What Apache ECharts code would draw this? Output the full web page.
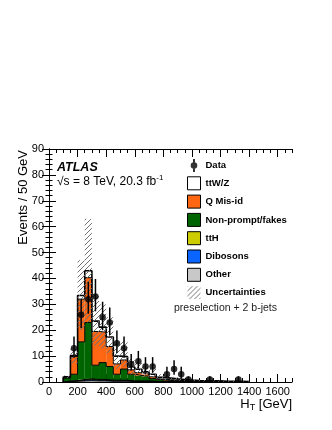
<!DOCTYPE html>
<html>
<head>
<meta charset="utf-8">
<script src="https://cdn.jsdelivr.net/npm/echarts@6/dist/echarts.min.js"></script>
<style>
html, body { margin: 0; padding: 0; background: #fff; }
#chart { width: 332px; height: 430px; }
</style>
</head>
<body>
<div id="chart"></div>
<script>
// bin lower edges (GeV), 50 GeV wide
var binLow = [100, 150, 200, 250, 300, 350, 400, 450, 500, 550, 600, 650, 700, 750, 800, 850, 900, 950, 1000, 1050, 1100, 1150, 1200, 1250, 1300, 1350];
var binWidth = 50;

// background components, stacked bottom -> top
var other     = [0.2, 0.3, 0.4, 0.5, 0.4, 0.4, 0.3, 0.3, 0.3, 0.2, 0.2, 0.2, 0.1, 0.1, 0.1, 0.1, 0.1, 0.1, 0.05, 0.05, 0.05, 0.05, 0.03, 0.03, 0.03, 0.02];
var dibosons  = [0.1, 0.1, 0.3, 0.4, 0.3, 0.3, 0.2, 0.2, 0.2, 0.1, 0.1, 0.1, 0.1, 0.05, 0.05, 0.05, 0.03, 0.03, 0.02, 0.02, 0.02, 0.01, 0.01, 0.01, 0.01, 0.01];
var ttH       = [0.05, 0.1, 0.2, 0.3, 0.3, 0.3, 0.2, 0.2, 0.2, 0.1, 0.1, 0.1, 0.1, 0.05, 0.05, 0.05, 0.03, 0.03, 0.02, 0.02, 0.02, 0.01, 0.01, 0.01, 0.01, 0.01];
var nonPrompt = [1.2, 2.5, 14.6, 21.8, 5.5, 6.5, 5.3, 2.3, 4.3, 2.6, 2.1, 1.8, 1.0, 0.6, 0.4, 0.3, 0.2, 0.2, 0.1, 0.1, 0.1, 0.1, 0.05, 0.05, 0.05, 0.05];
var qMisId    = [0.1, 6.8, 16.5, 17.3, 13.0, 11.8, 7.7, 4.0, 3.5, 1.7, 1.1, 0.8, 0.7, 0.3, 0.3, 0.2, 0.2, 0.1, 0.1, 0.1, 0.05, 0.05, 0.05, 0.05, 0.03, 0.03];
var ttWZ      = [0.4, 0.4, 1.4, 2.7, 4.0, 1.9, 3.7, 3.0, 1.3, 1.1, 1.3, 0.9, 1.0, 0.7, 0.6, 0.5, 0.4, 0.3, 0.3, 0.2, 0.2, 0.2, 0.15, 0.1, 0.1, 0.1];

// total uncertainty band
var uncLow  = [1.5, 7, 20, 23, 14, 13, 11, 5, 6, 3, 2.5, 2, 1.5, 1, 0.8, 0.6, 0.5, 0.4, 0.3, 0.2, 0.2, 0.15, 0.1, 0.1, 0.1, 0.1];
var uncHigh = [2.5, 13, 47, 63, 34, 30, 25, 15, 16, 9, 7.5, 6, 5, 3, 2.5, 2, 1.6, 1.3, 1, 0.8, 0.7, 0.6, 0.5, 0.4, 0.4, 0.3];

// data points
var dataX       = [175, 225, 275, 325, 375, 425, 475, 525, 575, 625, 675, 725, 825, 875, 925, 975, 1125, 1325];
var dataY       = [13, 26, 32, 33, 25, 23, 15, 13, 7, 8, 6, 6, 3, 5, 3, 1, 1, 1];
var dataErrUp   = [4.6, 6.1, 6.7, 6.8, 6.0, 5.8, 4.9, 4.6, 3.8, 4.0, 3.6, 3.6, 2.9, 3.4, 2.9, 1.2, 1.2, 1.2];
var dataErrDown = [3.6, 5.1, 5.6, 5.7, 5.0, 4.8, 3.8, 3.6, 2.6, 2.8, 2.4, 2.4, 1.6, 2.2, 1.6, 0.8, 0.8, 0.8];

var xMajorTicks = [0, 200, 400, 600, 800, 1000, 1200, 1400, 1600];

var font = '"Liberation Sans", Arial, Helvetica, sans-serif';

// hatch pattern for uncertainties
var hatch = document.createElement('canvas');
hatch.width = 5;
hatch.height = 5;
var hctx = hatch.getContext('2d');
hctx.fillStyle = '#707070';
for (var i = 0; i < 5; i++) hctx.fillRect(i, 4 - i, 1, 1);
var hatchFill = { image: hatch, repeat: 'repeat' };

var components = [
    { name: 'Other', vals: other, color: '#c8c8c8' },
    { name: 'Dibosons', vals: dibosons, color: '#0a64ff' },
    { name: 'ttH', vals: ttH, color: '#cccc00' },
    { name: 'Non-prompt/fakes', vals: nonPrompt, color: '#006400' },
    { name: 'Q Mis-id', vals: qMisId, color: '#ff6611' },
    { name: 'ttW/Z', vals: ttWZ, color: '#ffffff' }
];

function rectItem(fill) {
    return function(params, api) {
        var lo = api.coord([api.value(0), api.value(2)]);
        var hi = api.coord([api.value(1), api.value(3)]);
        return {
            type: 'rect',
            shape: { x: lo[0], y: hi[1], width: hi[0] - lo[0], height: lo[1] - hi[1] },
            style: { fill: fill }
        };
    };
}

var fillSeries = [];
var lineSeries = [];
var base = binLow.map(function() { return 0; });
components.forEach(function(c, k) {
    var rows = [];
    var top = [];
    binLow.forEach(function(x, j) {
        rows.push([x, x + binWidth, base[j], base[j] + c.vals[j]]);
        top.push(base[j] + c.vals[j]);
    });
    fillSeries.push({
        name: c.name,
        type: 'custom',
        renderItem: rectItem(c.color),
        itemStyle: { color: c.color, borderColor: '#000', borderWidth: 1 },
        data: rows,
        z: 2,
        silent: true
    });
    // step outline of the cumulative histogram
    var pts = [[binLow[0], 0]];
    binLow.forEach(function(x, j) { pts.push([x, top[j]]); });
    pts.push([binLow[binLow.length - 1] + binWidth, 0]);
    lineSeries.push({
        type: 'line',
        step: 'end',
        data: pts,
        symbol: 'none',
        silent: true,
        z: 3,
        lineStyle: { color: '#000', width: k === components.length - 1 ? 1.6 : 1 }
    });
    base = top;
});

var uncRows = binLow.map(function(x, j) { return [x, x + binWidth, uncLow[j], uncHigh[j]]; });
var errRows = dataX.map(function(x, j) { return [x, dataY[j] - dataErrDown[j], dataY[j] + dataErrUp[j]]; });
var points = dataX.map(function(x, j) { return [x, dataY[j]]; });

var boxStyle = { borderColor: '#000', borderWidth: 1 };

var option = {
    animation: false,
    textStyle: { fontFamily: font },
    grid: { left: 49, right: 40, top: 149, bottom: 48 },
    legend: {
        orient: 'vertical',
        left: 187,
        top: 159,
        padding: 0,
        itemWidth: 13,
        itemHeight: 13,
        itemGap: 4.3,
        selectedMode: false,
        textStyle: { fontSize: 9.5, fontWeight: 'bold', color: '#000', fontFamily: font, lineHeight: 13 },
        data: [
            { name: 'Data', icon: 'path://M5.5,0h2v13h-2zM6.5,3.2a3.3,3.3,0,1,1,0,6.6a3.3,3.3,0,1,1,0,-6.6z' },
            { name: 'ttW/Z', icon: 'rect', itemStyle: boxStyle },
            { name: 'Q Mis-id', icon: 'rect', itemStyle: boxStyle },
            { name: 'Non-prompt/fakes', icon: 'rect', itemStyle: boxStyle },
            { name: 'ttH', icon: 'rect', itemStyle: boxStyle },
            { name: 'Dibosons', icon: 'rect', itemStyle: boxStyle },
            { name: 'Other', icon: 'rect', itemStyle: boxStyle },
            { name: 'Uncertainties', icon: 'rect', itemStyle: { borderWidth: 0 } }
        ]
    },
    xAxis: [{
        type: 'value', min: 0, max: 1700, interval: 50, position: 'bottom',
        axisLine: { lineStyle: { color: '#000', width: 1 } },
        axisTick: { inside: true, length: 4, lineStyle: { color: '#000' } },
        axisLabel: {
            customValues: xMajorTicks, color: '#000', fontSize: 11, margin: 4,
            formatter: function(v) { return String(v); }
        },
        splitLine: { show: false }
    }, {
        type: 'value', min: 0, max: 1700, position: 'bottom',
        axisLine: { show: false },
        axisTick: { inside: true, length: 8, customValues: xMajorTicks, lineStyle: { color: '#000' } },
        axisLabel: { show: false },
        splitLine: { show: false }
    }, {
        type: 'value', min: 0, max: 1700, interval: 50, position: 'top',
        axisLine: { lineStyle: { color: '#000', width: 1 } },
        axisTick: { inside: true, length: 4, lineStyle: { color: '#000' } },
        axisLabel: { show: false },
        splitLine: { show: false }
    }, {
        type: 'value', min: 0, max: 1700, position: 'top',
        axisLine: { show: false },
        axisTick: { inside: true, length: 8, customValues: xMajorTicks, lineStyle: { color: '#000' } },
        axisLabel: { show: false },
        splitLine: { show: false }
    }],
    yAxis: [{
        type: 'value', min: 0, max: 90, interval: 10, position: 'left',
        axisLine: { show: true, lineStyle: { color: '#000', width: 1 } },
        axisTick: { show: true, inside: true, length: 7, lineStyle: { color: '#000' } },
        minorTick: { show: true, splitNumber: 5, length: 3.5, lineStyle: { color: '#000' } },
        axisLabel: { color: '#000', fontSize: 11, margin: 5 },
        splitLine: { show: false }
    }, {
        type: 'value', min: 0, max: 90, interval: 10, position: 'right',
        axisLine: { show: true, lineStyle: { color: '#000', width: 1 } },
        axisTick: { show: true, inside: true, length: 7, lineStyle: { color: '#000' } },
        minorTick: { show: true, splitNumber: 5, length: 3.5, lineStyle: { color: '#000' } },
        axisLabel: { show: false },
        splitLine: { show: false }
    }],
    graphic: [{
        type: 'text', x: 23, y: 150, rotation: Math.PI / 2,
        style: { text: 'Events / 50 GeV', font: '13px ' + font, fill: '#000', textAlign: 'right', textVerticalAlign: 'middle' }
    }, {
        type: 'text', x: 292, y: 404,
        style: {
            text: '{a|H}{b|T}{a| [GeV]}', textAlign: 'right', textVerticalAlign: 'middle', fill: '#000',
            rich: {
                a: { fontSize: 13, fontFamily: font, fill: '#000' },
                b: { fontSize: 9, fontFamily: font, fill: '#000', padding: [7, 0, 0, 0] }
            }
        }
    }, {
        type: 'text', x: 57, y: 168,
        style: { text: 'ATLAS', font: 'italic bold 12.5px ' + font, fill: '#000', textVerticalAlign: 'middle' }
    }, {
        type: 'text', x: 57, y: 182,
        style: {
            text: '{a|√s = 8 TeV, 20.3 fb}{b|-1}', textVerticalAlign: 'middle', fill: '#000',
            rich: {
                a: { fontSize: 12, fontFamily: font, fill: '#000' },
                b: { fontSize: 8, fontFamily: font, fill: '#000', padding: [0, 0, 8, 0] }
            }
        }
    }, {
        type: 'text', x: 277, y: 308,
        style: { text: 'preselection + 2 b-jets', font: '10.5px ' + font, fill: '#222', textAlign: 'right', textVerticalAlign: 'middle' }
    }],
    series: fillSeries.concat(lineSeries).concat([{
        name: 'Uncertainties',
        type: 'custom',
        renderItem: rectItem(hatchFill),
        itemStyle: { color: hatchFill, borderWidth: 0 },
        data: uncRows,
        z: 4,
        silent: true
    }, {
        type: 'custom',
        renderItem: function(params, api) {
            var a = api.coord([api.value(0), api.value(1)]);
            var b = api.coord([api.value(0), api.value(2)]);
            return { type: 'line', shape: { x1: a[0], y1: a[1], x2: b[0], y2: b[1] }, style: { stroke: '#000', lineWidth: 1.5 } };
        },
        data: errRows,
        z: 5,
        silent: true
    }, {
        name: 'Data',
        type: 'scatter',
        data: points,
        symbol: 'circle',
        symbolSize: 6.5,
        itemStyle: { color: '#000' },
        z: 6,
        silent: true
    }])
};

var myChart = echarts.init(document.getElementById('chart'));
myChart.setOption(option);
</script>
</body>
</html>
